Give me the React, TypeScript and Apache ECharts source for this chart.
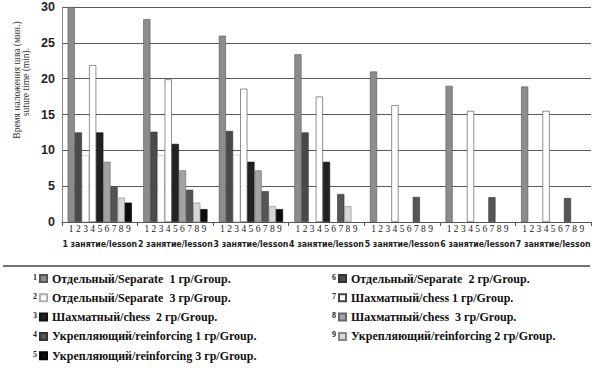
import React, { useEffect, useRef } from "react";
import * as echarts from "echarts";

const lessons = [
  "1 занятие/lesson",
  "2 занятие/lesson",
  "3 занятие/lesson",
  "4 занятие/lesson",
  "5 занятие/lesson",
  "6 занятие/lesson",
  "7 занятие/lesson",
];

const yTicks = { min: 0, max: 30, interval: 5 };

const separate1 = [30, 28.3, 26.0, 23.4, 21.0, 19.0, 18.9];
const separate2 = [12.5, 12.6, 12.7, 12.5, 0, 0, 0];
const separate3 = [9.3, 9.3, 9.4, 0, 0, 0, 0];
const chess1 = [21.9, 19.9, 18.6, 17.5, 16.3, 15.5, 15.5];
const chess2 = [12.5, 10.9, 8.4, 8.4, 0, 0, 0];
const chess3 = [8.4, 7.2, 7.2, 0, 0, 0, 0];
const reinforcing1 = [4.9, 4.5, 4.3, 3.9, 3.5, 3.45, 3.35];
const reinforcing2 = [3.4, 2.7, 2.2, 2.2, 0, 0, 0];
const reinforcing3 = [2.7, 1.8, 1.8, 0, 0, 0, 0];

const seriesNames = [
  "Отдельный/Separate  1 гр/Group.",
  "Отдельный/Separate  2 гр/Group.",
  "Отдельный/Separate  3 гр/Group.",
  "Шахматный/chess 1 гр/Group.",
  "Шахматный/chess  2 гр/Group.",
  "Шахматный/chess  3 гр/Group.",
  "Укрепляющий/reinforcing 1 гр/Group.",
  "Укрепляющий/reinforcing 2 гр/Group.",
  "Укрепляющий/reinforcing 3 гр/Group.",
];
const seriesData = [
  separate1,
  separate2,
  separate3,
  chess1,
  chess2,
  chess3,
  reinforcing1,
  reinforcing2,
  reinforcing3,
];
const slotLabels = ["1", "2", "3", "4", "5", "6", "7", "8", "9"];

// legend columns (series indexes) and the numbers printed before them
const legendLeft = [0, 2, 4, 6, 8];
const legendLeftNums = ["1", "2", "3", "4", "5"];
const legendRight = [1, 3, 5, 7];
const legendRightNums = ["6", "7", "8", "9"];

const fills = ["#8c8c8c", "#4a4a4a", "#ffffff", "#ffffff", "#222222", "#a3a3a3", "#555555", "#d6d6d6", "#0d0d0d"];
const borders = ["#555555", "#333333", "#b0b0b0", "#444444", "#111111", "#666666", "#333333", "#888888", "#000000"];

export default function App() {
  const ref = useRef<HTMLDivElement>(null);
  useEffect(() => {
    if (!ref.current) return;
    const chart = echarts.init(ref.current, undefined, { renderer: "svg" });
    const legendTop = 272;
    const rowH = 19.3;
    const numStyle = { font: "bold 8px 'Liberation Serif'", fill: "#222", textAlign: "center", textVerticalAlign: "middle" };
    const numTexts: any[] = [];
    legendLeftNums.forEach((n, i) =>
      numTexts.push({ type: "text", x: 35, y: legendTop + 5 + i * rowH, style: { ...numStyle, text: n } })
    );
    legendRightNums.forEach((n, i) =>
      numTexts.push({ type: "text", x: 334, y: legendTop + 5 + i * rowH, style: { ...numStyle, text: n } })
    );
    const legendCommon = {
      orient: "vertical" as const,
      top: legendTop,
      height: 110,
      padding: 0,
      itemWidth: 7,
      itemHeight: 7,
      itemGap: 6.3,
      icon: "rect",
      textStyle: { fontFamily: "Liberation Serif", fontWeight: "bold" as const, fontSize: 12, color: "#111", lineHeight: 13 },
      selectedMode: false,
    };
    chart.setOption({
      animation: false,
      backgroundColor: "#ffffff",
      grid: { left: 62, right: 9, top: 7, bottom: 146, containLabel: false },
      xAxis: {
        type: "category",
        data: lessons,
        axisLine: { lineStyle: { color: "#555", width: 1 } },
        axisTick: { show: true, length: 4, lineStyle: { color: "#555" } },
        axisLabel: {
          interval: 0,
          margin: 17,
          fontFamily: "DejaVu Sans Condensed",
          fontWeight: "bold",
          fontSize: 8.7,
          color: "#222",
        },
      },
      yAxis: {
        type: "value",
        min: yTicks.min,
        max: yTicks.max,
        interval: yTicks.interval,
        axisLine: { show: true, lineStyle: { color: "#888", width: 1 } },
        axisTick: { show: false },
        splitLine: { lineStyle: { color: "#5a5a5a", width: 1.2 } },
        axisLabel: {
          margin: 7,
          fontFamily: "Liberation Sans",
          fontWeight: "bold",
          fontSize: 12.5,
          color: "#222",
        },
      },
      legend: [
        { ...legendCommon, left: 39, data: legendLeft.map((i) => seriesNames[i]) },
        { ...legendCommon, left: 338, data: legendRight.map((i) => seriesNames[i]) },
      ],
      graphic: [
        {
          type: "text",
          x: 17,
          y: 80,
          rotation: Math.PI / 2,
          style: {
            text: "Время наложения шва (мин.)",
            font: "9.5px 'Liberation Serif'",
            fill: "#333",
            textAlign: "center",
            textVerticalAlign: "middle",
          },
        },
        {
          type: "text",
          x: 26,
          y: 82,
          rotation: Math.PI / 2,
          style: {
            text: "suture time (min).",
            font: "9.5px 'Liberation Serif'",
            fill: "#333",
            textAlign: "center",
            textVerticalAlign: "middle",
          },
        },
        {
          type: "line",
          shape: { x1: 3, y1: 266, x2: 590, y2: 266 },
          style: { stroke: "#444", lineWidth: 1.5 },
        },
        ...numTexts,
      ],
      series: seriesNames.map((name, i) => ({
        name,
        type: "bar",
        data: seriesData[i].map((v) => (v === 0 ? { value: 0, itemStyle: { borderWidth: 0 } } : v)),
        barGap: "0%",
        barCategoryGap: "15%",
        itemStyle: { color: fills[i], borderColor: borders[i], borderWidth: 0.6 },
        label: {
          show: true,
          position: "bottom",
          distance: 2,
          formatter: () => slotLabels[i],
          fontFamily: "Liberation Serif",
          fontSize: 9.5,
          color: "#222",
        },
      })),
    });
    return () => chart.dispose();
  }, []);
  return <div ref={ref} style={{ position: "absolute", left: 0, top: 0, width: 600, height: 368 }} />;
}
